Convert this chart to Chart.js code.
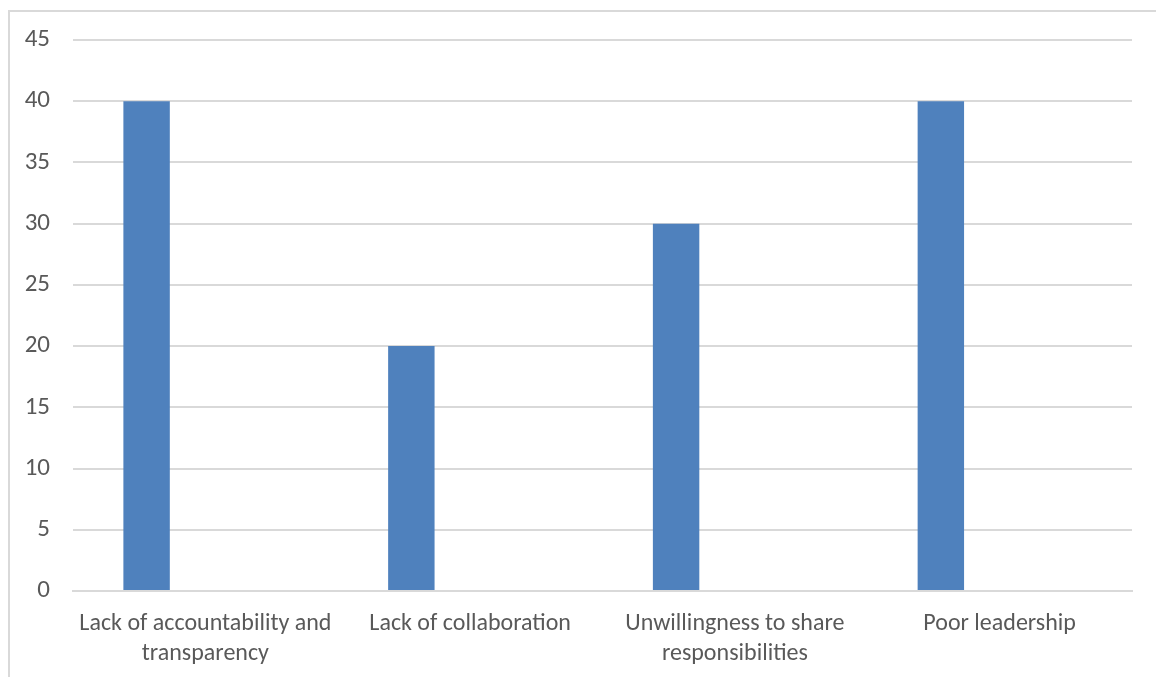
<!DOCTYPE html>
<html>
<head>
<meta charset="utf-8">
<script src="https://cdn.jsdelivr.net/npm/chart.js@4/dist/chart.umd.min.js"></script>
<style>
  html, body { margin: 0; padding: 0; background: #fff; overflow: hidden; }
  #frame { position: absolute; left: 8px; top: 10px; width: 1300px; height: 800px;
           border-left: 2px solid #d9d9d9; border-top: 2px solid #d9d9d9; }
  #wrap { position: absolute; left: 0; top: 0; width: 1156px; height: 677px; }
</style>
</head>
<body>
<div id="frame"></div>
<div id="wrap"><canvas id="c" width="1156" height="677"></canvas></div>
<script>
// Categories and values
const categories = [
  ["Lack of accountability and", "transparency"],
  "Lack of collaboration",
  ["Unwillingness to share", "responsibilities"],
  "Poor leadership"
];
const counts = [40, 20, 30, 40];
// Two empty series keep the clustered-column layout (bar sits left in its slot)
const emptySeriesA = [null, null, null, null];
const emptySeriesB = [null, null, null, null];
const yTicks = [0, 5, 10, 15, 20, 25, 30, 35, 40, 45];

const textColor = '#595959';
const gridColor = '#d9d9d9';
const barColor = '#4f81bd';
const fontFamily = "Carlito, Calibri, Lato, 'Open Sans', sans-serif";

new Chart(document.getElementById('c'), {
  type: 'bar',
  data: {
    labels: categories,
    datasets: [
      { label: 'Series1', data: counts, backgroundColor: barColor, categoryPercentage: 0.666, barPercentage: 0.79 },
      { label: 'Series2', data: emptySeriesA, backgroundColor: barColor, categoryPercentage: 0.666, barPercentage: 0.79 },
      { label: 'Series3', data: emptySeriesB, backgroundColor: barColor, categoryPercentage: 0.666, barPercentage: 0.79 }
    ]
  },
  options: {
    responsive: false,
    animation: false,
    layout: { padding: { left: 0, top: 40, right: 24, bottom: 0 } },
    plugins: { legend: { display: false }, tooltip: { enabled: false } },
    scales: {
      x: {
        grid: { display: false, drawTicks: false },
        border: { display: true, color: gridColor, width: 2 },
        ticks: { color: textColor, font: { family: fontFamily, size: 24, lineHeight: 1.25 }, padding: 18, maxRotation: 0, autoSkip: false },
        afterFit: s => { s.height = 86; }
      },
      y: {
        min: 0, max: 45,
        afterBuildTicks: s => { s.ticks = yTicks.map(v => ({ value: v })); },
        grid: { color: gridColor, lineWidth: 2, drawTicks: false },
        border: { display: false },
        ticks: { color: textColor, font: { family: fontFamily, size: 25 }, padding: 23 },
        afterFit: s => { s.width = 73; }
      }
    }
  }
});
</script>
</body>
</html>
